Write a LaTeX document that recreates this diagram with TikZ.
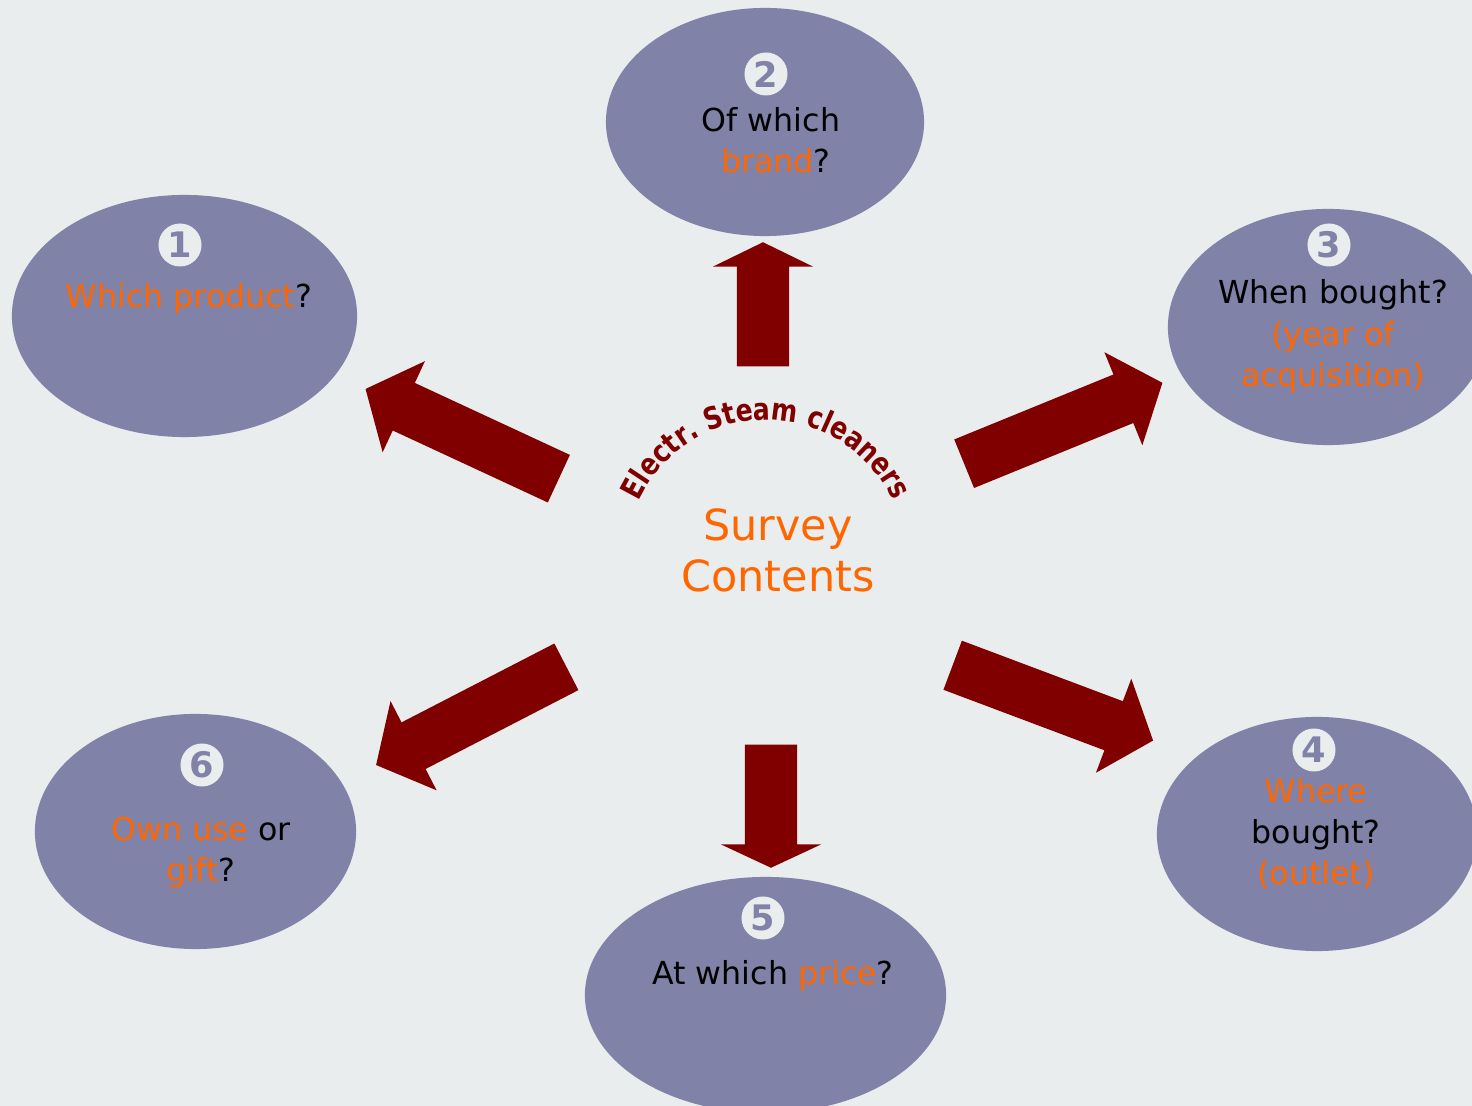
\documentclass[tikz,border=0pt]{standalone}
\usepackage{fontspec}
\setmainfont{DejaVu Sans}
\newfontfamily\arcfont[FakeStretch=0.82]{DejaVu Sans}
\usetikzlibrary{shapes.geometric,shapes.arrows,decorations.text}
\definecolor{bgcol}{RGB}{233,237,238}
\definecolor{lilac}{RGB}{128,130,168}
\definecolor{qorange}{RGB}{255,102,0}
\definecolor{darkred}{RGB}{128,0,0}

\begin{document}
\begin{tikzpicture}[x=0.01cm,y=0.01cm]
  \tikzstyle{bubble}=[ellipse,fill=lilac,inner sep=0pt]
  \tikzstyle{num}=[circle,fill=bgcol,text=lilac,minimum size=0.43cm,inner sep=0pt,font=\bfseries\fontsize{10}{10}\selectfont]
  \tikzstyle{ques}=[align=center,anchor=base,font=\fontsize{9}{11.8}\selectfont]
  \tikzstyle{bigarrow}=[single arrow,fill=darkred,anchor=tail,inner xsep=0pt,inner ysep=0.255cm,single arrow head extend=0.24cm,single arrow tip angle=100]
  \clip (0,0) rectangle (1472,1106);
  \fill[bgcol] (0,0) rectangle (1472,1106);

  \node[bubble,minimum width=3.45cm,minimum height=2.42cm] (e1) at (184.5,790) {};
  \node[bubble,minimum width=3.18cm,minimum height=2.28cm] (e2) at (765,984) {};
  \node[bubble,minimum width=3.20cm,minimum height=2.36cm] (e3) at (1328,779) {};
  \node[bubble,minimum width=3.20cm,minimum height=2.34cm] (e4) at (1317,272) {};
  \node[bubble,minimum width=3.61cm,minimum height=2.36cm] (e5) at (765.5,111) {};
  \node[bubble,minimum width=3.21cm,minimum height=2.35cm] (e6) at (195.5,274.5) {};

  \node[num] (n1) at (180,861) {1};
  \node[num] (n2) at (766,1032) {2};
  \node[num] (n3) at (1329,861) {3};
  \node[num] (n4) at (1314,356) {4};
  \node[num] (n5) at (763,188) {5};
  \node[num] (n6) at (202,341) {6};

  \node[ques] (q1) at (189,798) {\textcolor{qorange}{Which product}?};
  \node[ques] (q2) at (771,933) {Of which\\~\textcolor{qorange}{brand}?};
  \node[ques] (q3) at (1333,719) {When bought?\\\textcolor{qorange}{(year of}\\\textcolor{qorange}{acquisition)}};
  \node[ques] (q4) at (1316,221) {\textcolor{qorange}{Where}\\bought?\\\textcolor{qorange}{(outlet)}};
  \node[ques] (q5) at (773,121) {At which \textcolor{qorange}{price}?};
  \node[ques] (q6) at (201,224) {\textcolor{qorange}{Own use} or\\\textcolor{qorange}{gift}?};

  \node[bigarrow,rotate=155.1,minimum height=2.13cm] (a1) at (559.5,627) {};
  \node[bigarrow,rotate=90,minimum height=1.24cm,single arrow tip angle=128] (a2) at (763,739) {};
  \node[bigarrow,rotate=22.2,minimum height=2.14cm] (a3) at (963.5,642) {};
  \node[bigarrow,rotate=-20.6,minimum height=2.14cm] (a4) at (952,441) {};
  \node[bigarrow,rotate=-90,minimum height=1.23cm,single arrow tip angle=130] (a5) at (771,362) {};
  \node[bigarrow,rotate=207.3,minimum height=2.14cm] (a6) at (567,439.5) {};

  \node[align=center,anchor=base,text=qorange,font=\fontsize{12.2}{14.5}\selectfont] (title) at (778,514) {Survey\\Contents};
  \coordinate (hub) at (766,546);
  \path[decorate,decoration={text along path,text align=center,text color=darkred,
    text={|\arcfont\bfseries\fontsize{8.7}{10}\selectfont|Electr. Steam cleaners}}]
    ([shift={(157:1.4cm)}]hub) arc[start angle=157,end angle=23,radius=1.4cm];
\end{tikzpicture}
\end{document}
